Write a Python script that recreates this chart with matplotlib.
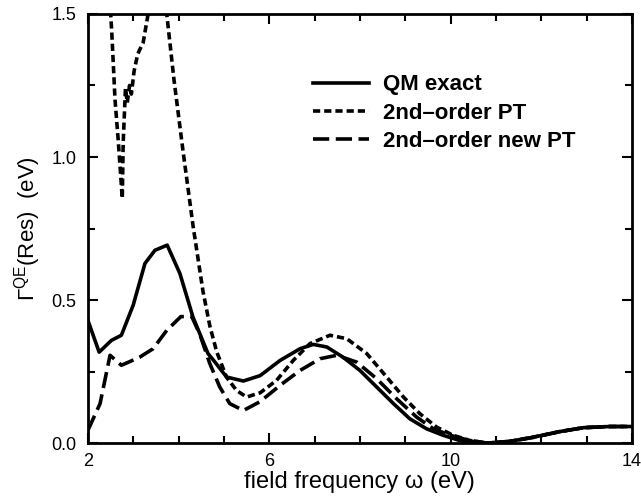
import matplotlib
matplotlib.use("Agg")
import matplotlib.pyplot as plt
from matplotlib.ticker import MultipleLocator, FixedLocator, FormatStrFormatter

plt.rcParams['font.family'] = ['Liberation Sans', 'DejaVu Sans']
plt.rcParams['mathtext.fontset'] = 'custom'
plt.rcParams['mathtext.rm'] = 'Liberation Sans'

# QM exact (solid)
qm_x = [2.0, 2.25, 2.52, 2.74, 3.0, 3.26, 3.48, 3.75, 4.03, 4.32, 4.65, 4.77, 5.06, 5.43,
        5.8, 6.24, 6.68, 6.97, 7.27, 7.63, 8.0, 8.37, 8.74, 9.1, 9.47, 9.84, 10.2,
        10.8, 11.3, 11.83, 12.4, 12.93, 13.5, 14.0]
qm_y = [0.43, 0.318, 0.359, 0.377, 0.482, 0.628, 0.674, 0.692, 0.593, 0.44, 0.313, 0.29, 0.231, 0.217,
        0.236, 0.289, 0.33, 0.345, 0.336, 0.30, 0.254, 0.196, 0.138, 0.085, 0.05, 0.027, 0.009,
        0.0, 0.006, 0.021, 0.04, 0.054, 0.058, 0.058]

# 2nd-order PT (short dashes)
pt_x = [2.45, 2.53, 2.6, 2.67, 2.76, 2.78, 2.83, 2.87, 2.92, 2.96, 3.02, 3.1, 3.22,
        3.33, 3.45, 3.58, 3.74, 3.9, 4.1, 4.32, 4.54, 4.69, 4.84, 5.06, 5.28, 5.5,
        5.8, 6.16, 6.53, 6.9, 7.34, 7.71, 8.15, 8.59, 8.96, 9.32, 9.69, 10.06, 10.43,
        10.8, 11.3, 11.83, 12.4, 12.93, 13.5, 14.0]
pt_y = [1.65, 1.43, 1.2, 1.06, 0.855, 1.05, 1.24, 1.19, 1.25, 1.22, 1.30, 1.36, 1.40,
        1.5, 1.62, 1.65, 1.5, 1.27, 1.02, 0.76, 0.53, 0.41, 0.32, 0.23, 0.184, 0.161,
        0.176, 0.219, 0.289, 0.348, 0.377, 0.365, 0.313, 0.231, 0.161, 0.103, 0.056, 0.027, 0.009,
        0.0, 0.006, 0.021, 0.04, 0.054, 0.058, 0.058]

# 2nd-order new PT (long dashes)
npt_x = [2.0, 2.27, 2.49, 2.74, 3.14, 3.44, 3.74, 4.05, 4.29, 4.47, 4.69, 4.91, 5.13, 5.43,
         5.8, 6.24, 6.68, 7.12, 7.49, 7.93, 8.37, 8.81, 9.25, 9.62, 10.0, 10.35,
         10.8, 11.3, 11.83, 12.4, 12.93, 13.5, 14.0]
npt_y = [0.044, 0.138, 0.307, 0.272, 0.30, 0.33, 0.394, 0.442, 0.443, 0.38, 0.278, 0.196, 0.138, 0.114,
         0.145, 0.202, 0.254, 0.295, 0.307, 0.283, 0.225, 0.155, 0.091, 0.05, 0.027, 0.012,
         0.0, 0.006, 0.02, 0.04, 0.054, 0.058, 0.058]

fig = plt.figure(figsize=(6.41, 4.99), dpi=100)
ax = fig.add_axes([0.137, 0.112, 0.849, 0.86])

ax.plot(qm_x, qm_y, color="black", lw=2.6, label="QM exact")
ax.plot(pt_x, pt_y, color="black", lw=2.6, dashes=(2.0, 1.1), label="2nd\u2013order PT")
ax.plot(npt_x, npt_y, color="black", lw=2.6, dashes=(4.5, 1.8), label="2nd\u2013order new PT")

ax.set_xlim(2, 14)
ax.set_ylim(0, 1.5)
ax.xaxis.set_major_locator(FixedLocator([2, 6, 10, 14]))
ax.xaxis.set_minor_locator(MultipleLocator(1))
ax.yaxis.set_major_locator(MultipleLocator(0.5))
ax.yaxis.set_minor_locator(MultipleLocator(0.25))
ax.yaxis.set_major_formatter(FormatStrFormatter('%.1f'))
ax.tick_params(which="both", direction="in", top=True, right=True, width=1.5)
ax.tick_params(which="major", length=7, labelsize=13)
ax.tick_params(which="minor", length=5)
ax.tick_params(axis="y", which="major", pad=8)
ax.tick_params(axis="x", which="major", pad=7)
for s in ax.spines.values():
    s.set_linewidth(2)

ax.set_xlabel("field frequency \u03c9 (eV)", fontsize=17, labelpad=1)
ax.set_ylabel(r"$\Gamma^{\rm QE}$(Res)  (eV)", fontsize=16, labelpad=6)

ax.legend(loc="upper left", bbox_to_anchor=(0.414, 0.859), frameon=False,
          prop={"weight": "bold", "size": 16}, handlelength=2.5, handletextpad=0.65,
          labelspacing=0.32, borderpad=0, borderaxespad=0)

fig.savefig("out.png", dpi=100)
